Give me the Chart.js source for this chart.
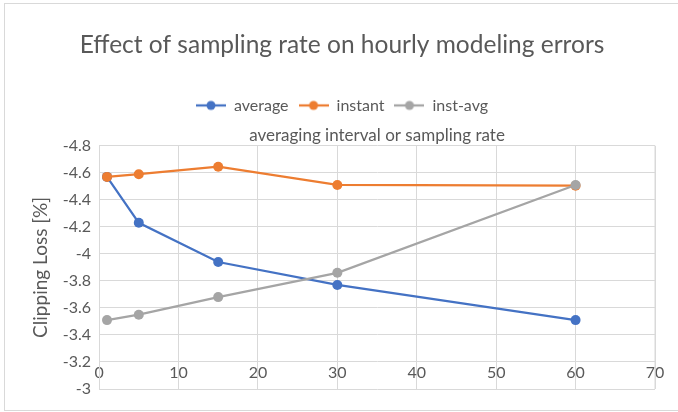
<!DOCTYPE html>
<html>
<head>
<meta charset="utf-8">
<script src="https://cdn.jsdelivr.net/npm/chart.js@4"></script>
<style>
  body { margin: 0; background: #fff; }
  #wrap { position: relative; width: 678px; height: 412px; }
  #frame { position: absolute; left: 4px; top: 3px; width: 690px; height: 406px; border: 1px solid #d9d9d9; pointer-events: none; }
</style>
</head>
<body>
<div id="wrap">
  <canvas id="myChart" width="678" height="412"></canvas>
  <div id="frame"></div>
</div>
<script>
  // data
  let xValues = [1, 5, 15, 30, 60];
  let average = [-4.57, -4.23, -3.94, -3.77, -3.51];
  let instant = [-4.57, -4.59, -4.645, -4.51, -4.505];
  let instAvg = [-3.51, -3.55, -3.68, -3.86, -4.51];
  let xTicks = [0, 10, 20, 30, 40, 50, 60, 70];
  let yTicks = [-4.8, -4.6, -4.4, -4.2, -4, -3.8, -3.6, -3.4, -3.2, -3];

  let textColor = "#595959";
  let fontFamily = "Lato, 'Open Sans', sans-serif";

  function toPoints(ys) {
    return xValues.map((x, i) => ({ x: x, y: ys[i] }));
  }

  // little line + marker image for the legend, like Excel does
  function legendMark(color) {
    let c = document.createElement("canvas");
    c.width = 30;
    c.height = 12;
    let g = c.getContext("2d");
    g.strokeStyle = color;
    g.lineWidth = 2.25;
    g.beginPath();
    g.moveTo(0, 6);
    g.lineTo(30, 6);
    g.stroke();
    g.fillStyle = color;
    g.beginPath();
    g.arc(15, 6, 4.5, 0, Math.PI * 2);
    g.fill();
    return c;
  }

  let series = [
    { label: "average", data: average, color: "#4472C4", order: 3 },
    { label: "instant", data: instant, color: "#ED7D31", order: 2 },
    { label: "inst-avg", data: instAvg, color: "#A5A5A5", order: 1 },
  ];

  let datasets = series.map((s) => ({
    label: s.label,
    data: toPoints(s.data),
    borderColor: s.color,
    backgroundColor: s.color,
    borderWidth: 2.25,
    pointRadius: 5,
    pointHoverRadius: 5,
    pointBorderWidth: 0,
    pointStyle: "circle",
    order: s.order,
    legendImage: legendMark(s.color),
  }));

  let ctx = document.getElementById("myChart").getContext("2d");
  let chart = new Chart(ctx, {
    type: "line",
    data: { datasets: datasets },
    options: {
      responsive: false,
      animation: false,
      layout: { padding: { left: 29, right: 23, top: 18, bottom: 23 } },
      plugins: {
        tooltip: { enabled: false },
        title: {
          display: true,
          text: "Effect of sampling rate on hourly modeling errors",
          color: textColor,
          font: { family: fontFamily, size: 24.5, weight: "normal" },
          padding: { top: 12, bottom: 28 },
        },
        legend: {
          position: "top",
          labels: {
            color: textColor,
            font: { family: fontFamily, size: 16 },
            usePointStyle: true,
            pointStyleWidth: 30,
            boxHeight: 12,
            padding: 10,
            sort: (a, b) => a.datasetIndex - b.datasetIndex,
            generateLabels: function (ch) {
              let items = Chart.defaults.plugins.legend.labels.generateLabels(ch);
              items.forEach((it) => {
                it.pointStyle = ch.data.datasets[it.datasetIndex].legendImage;
              });
              return items;
            },
          },
        },
        subtitle: {
          display: true,
          text: "averaging interval or sampling rate",
          position: "top",
          fullSize: false,
          weight: 500,
          color: textColor,
          font: { family: fontFamily, size: 17, weight: "normal" },
          padding: { top: 2, bottom: 0 },
        },
      },
      scales: {
        x: {
          type: "linear",
          position: { y: -3.2 },
          min: 0,
          max: 70,
          afterBuildTicks: (s) => { s.ticks = xTicks.map((v) => ({ value: v })); },
          grid: { color: "#d9d9d9", drawTicks: false },
          border: { display: false },
          ticks: {
            color: textColor,
            font: { family: fontFamily, size: 16 },
            padding: 1,
            maxRotation: 0,
          },
        },
        y: {
          type: "linear",
          reverse: true,
          min: -4.8,
          max: -3,
          afterBuildTicks: (s) => { s.ticks = yTicks.map((v) => ({ value: v })); },
          grid: { color: "#d9d9d9", drawTicks: false },
          border: { color: "#d9d9d9" },
          ticks: {
            color: textColor,
            font: { family: fontFamily, size: 16 },
            padding: 8,
            callback: (v) => String(Math.round(v * 10) / 10),
          },
          title: {
            display: true,
            text: "Clipping Loss [%]",
            color: textColor,
            font: { family: fontFamily, size: 19 },
            padding: { top: 0, bottom: 3 },
          },
        },
      },
    },
    plugins: [{
      // right edge of the plot box
      id: "plotBox",
      afterDraw(ch) {
        let a = ch.chartArea;
        let g = ch.ctx;
        g.save();
        g.strokeStyle = "#d9d9d9";
        g.lineWidth = 1;
        g.beginPath();
        g.moveTo(a.right, a.top);
        g.lineTo(a.right, a.bottom);
        g.stroke();
        g.restore();
      },
    }],
  });
</script>
</body>
</html>
